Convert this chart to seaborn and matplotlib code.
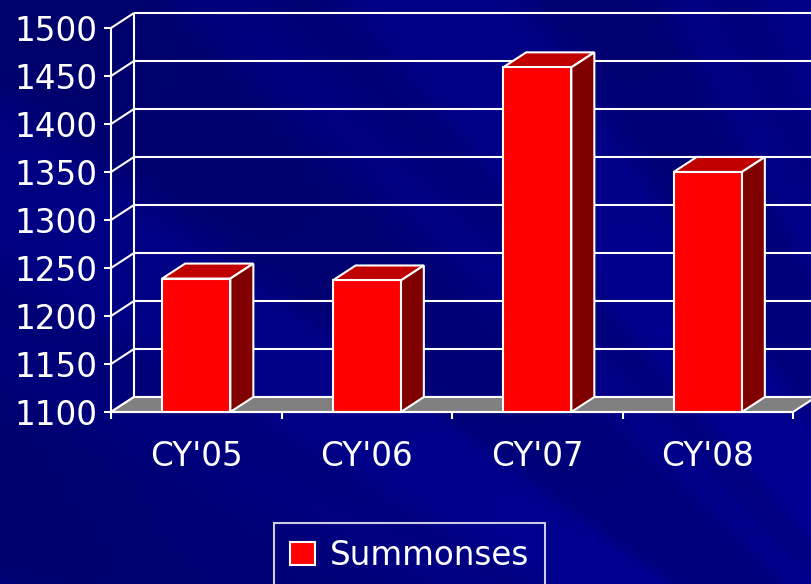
import numpy as np
import pandas as pd
import matplotlib
matplotlib.use("Agg")
import matplotlib.pyplot as plt
from matplotlib.patches import Polygon, Patch
import seaborn as sns

# --- DATA ---
years = ["CY'05", "CY'06", "CY'07", "CY'08"]
summonses = [1239, 1237, 1459, 1350]
y_ticks = [1100, 1150, 1200, 1250, 1300, 1350, 1400, 1450, 1500]
series_name = "Summonses"

# --- LAYOUT (pixels) ---
W, H = 811, 584
LEFT, RIGHT, TOP, BOTTOM = 111, 793, 28, 412
DEPTH_X, DEPTH_Y = 23, 15

FRONT = "#ff0000"
TOP_FACE = "#c00000"
SIDE_FACE = "#800000"
FLOOR = "#808080"
LW = 1.5
FS = 23.5

sns.set_theme(style="white")
plt.rcParams["font.family"] = ["DejaVu Sans"]

fig = plt.figure(figsize=(W / 100, H / 100), dpi=100)

# --- background: soft blue rays coming from lower right ---
bg = fig.add_axes([0, 0, 1, 1], zorder=0)
yy, xx = np.mgrid[0:H, 0:W]
theta = np.arctan2(yy - 940.0, xx - 1160.0)
radius = np.hypot(yy - 940.0, xx - 1160.0)
wave = np.sin(19 * theta + 0.4) + 0.6 * np.sin(37 * theta + 1.7) + 0.25 * np.sin(61 * theta + 0.9)
blue = 134 + 11 * np.tanh(2.0 * wave) - 0.02 * (radius - 650)
img = np.zeros((H, W, 3))
img[..., 2] = np.clip(blue, 0, 255) / 255
img[..., 1] = np.clip((blue - 135) * 0.12, 0, 255) / 255
bg.imshow(img, extent=[0, 1, 0, 1], aspect="auto")
bg.set_axis_off()

# --- main plot ---
ax = fig.add_axes([LEFT / W, 1 - BOTTOM / H, (RIGHT - LEFT) / W, (BOTTOM - TOP) / H], zorder=1)
ax.patch.set_alpha(0)

df = pd.DataFrame({"year": years, "summonses": summonses})
sns.barplot(data=df, x="year", y="summonses", color=FRONT, saturation=1, width=0.4,
            edgecolor="white", linewidth=LW, ax=ax, zorder=6)

base, top = y_ticks[0], y_ticks[-1]
n = len(years)
ax.set_xlim(-0.5, n - 0.5)
ax.set_ylim(base, top)
dx = DEPTH_X / (RIGHT - LEFT) * n
dy = DEPTH_Y / (BOTTOM - TOP) * (top - base)

# back wall + left wall grid
line_kw = dict(color="white", lw=LW, clip_on=False, zorder=2, solid_capstyle="butt")
for t in y_ticks:
    ax.plot([-0.5, -0.5 + dx], [t, t + dy], **line_kw)
    ax.plot([-0.5 + dx, n], [t + dy, t + dy], **line_kw)
ax.plot([-0.5 + dx, -0.5 + dx], [base + dy, top + dy], **line_kw)

# floor
ax.add_patch(Polygon([(-0.5, base), (n - 0.5, base), (n - 0.5 + dx, base + dy), (-0.5 + dx, base + dy)],
                     closed=True, fc=FLOOR, ec="white", lw=LW, clip_on=False, zorder=3))

# 3D bars: move bars onto the floor, add top and side faces
for p in list(ax.patches):
    if not isinstance(p, matplotlib.patches.Rectangle):
        continue
    h = p.get_height()
    p.set_y(base)
    p.set_height(h - base)
    p.set_clip_on(False)
    x0, w = p.get_x(), p.get_width()
    ax.add_patch(Polygon([(x0, h), (x0 + w, h), (x0 + w + dx, h + dy), (x0 + dx, h + dy)],
                         closed=True, fc=TOP_FACE, ec="white", lw=LW, clip_on=False, zorder=5))
    ax.add_patch(Polygon([(x0 + w, base), (x0 + w + dx, base + dy), (x0 + w + dx, h + dy), (x0 + w, h)],
                         closed=True, fc=SIDE_FACE, ec="white", lw=LW, clip_on=False, zorder=5))

# axes styling
for side in ["top", "right"]:
    ax.spines[side].set_visible(False)
for side in ["left", "bottom"]:
    ax.spines[side].set_color("white")
    ax.spines[side].set_linewidth(LW)
    ax.spines[side].set_zorder(7)

ax.set_yticks(y_ticks)
ax.tick_params(axis="y", left=True, colors="white", length=5, width=LW, labelsize=FS, pad=5, direction="out")
ax.set_xticks(range(n))
ax.set_xticks(np.arange(-0.5, n, 1), minor=True)
ax.tick_params(axis="x", which="major", bottom=True, length=0, labelsize=FS, labelcolor="white", pad=20)
ax.tick_params(axis="x", which="minor", bottom=True, length=5, width=LW, color="white", direction="out")
ax.set_xlabel("")
ax.set_ylabel("")

# legend
handle = Patch(facecolor=FRONT, edgecolor="white", linewidth=LW)
leg = fig.legend(handles=[handle], labels=[series_name], loc="upper left",
                 bbox_to_anchor=(274 / W, 1 - 523 / H), frameon=True, fancybox=False,
                 edgecolor="white", facecolor="none", fontsize=FS, handlelength=0.75,
                 handleheight=0.7, handletextpad=0.45, borderpad=0.5, borderaxespad=0,
                 labelcolor="white")
leg.get_frame().set_linewidth(LW)

fig.savefig("out.png", dpi=100)
